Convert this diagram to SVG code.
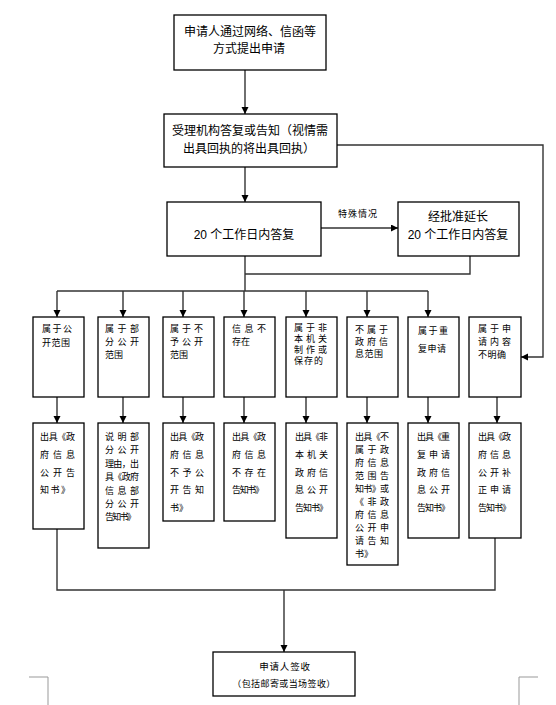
<svg xmlns="http://www.w3.org/2000/svg" width="556" height="705" viewBox="0 0 556 705">
<style>
.box{fill:#fff;stroke:#000;stroke-width:1.3}
.ln{fill:none;stroke:#333;stroke-width:1.4}
.crop{fill:none;stroke:#999;stroke-width:1}
text{font-family:"Liberation Sans","Noto Sans CJK SC",sans-serif;fill:#000}
.m{font-size:12px;text-anchor:middle}
.s{font-size:9px}
.c{font-size:9.5px;text-anchor:middle}
</style>
<defs>
<marker id="ah" markerUnits="userSpaceOnUse" markerWidth="8" markerHeight="8" refX="7" refY="3.5" orient="auto">
<path d="M0,0 L7,3.5 L0,7 z" fill="#000"/>
</marker>
</defs>
<rect width="556" height="705" fill="#fff"/>
<g id="connectors">
<path class="ln" d="M245,70 V114" marker-end="url(#ah)"/>
<path class="ln" d="M245,167 V202" marker-end="url(#ah)"/>
<path class="ln" d="M321,228 H398" marker-end="url(#ah)"/>
<text class="s" x="358" y="217" text-anchor="middle" letter-spacing="1">特殊情况</text>
<path class="ln" d="M470,256 V274 H245"/>
<path class="ln" d="M245,256 V291"/>
<path class="ln" d="M57,291 H428"/>
<path class="ln" d="M57,291 V317" marker-end="url(#ah)"/>
<path class="ln" d="M123,291 V317" marker-end="url(#ah)"/>
<path class="ln" d="M183,291 V317" marker-end="url(#ah)"/>
<path class="ln" d="M244,291 V317" marker-end="url(#ah)"/>
<path class="ln" d="M306,291 V317" marker-end="url(#ah)"/>
<path class="ln" d="M367,291 V317" marker-end="url(#ah)"/>
<path class="ln" d="M428,291 V317" marker-end="url(#ah)"/>
<path class="ln" d="M337,145 H543 V357 H521" marker-end="url(#ah)"/>
<path class="ln" d="M57,397 V423" marker-end="url(#ah)"/>
<path class="ln" d="M123,397 V423" marker-end="url(#ah)"/>
<path class="ln" d="M183,397 V423" marker-end="url(#ah)"/>
<path class="ln" d="M244,397 V423" marker-end="url(#ah)"/>
<path class="ln" d="M306,397 V423" marker-end="url(#ah)"/>
<path class="ln" d="M367,397 V423" marker-end="url(#ah)"/>
<path class="ln" d="M428,397 V423" marker-end="url(#ah)"/>
<path class="ln" d="M497,397 V423" marker-end="url(#ah)"/>
<path class="ln" d="M57,529 V590 H495 V538"/>
<path class="ln" d="M284,590 V652" marker-end="url(#ah)"/>
</g>
<g id="crop-marks">
<path class="crop" d="M29,677 H48 V705"/>
<path class="crop" d="M538,677 H519 V705"/>
</g>
<g id="n-apply">
<rect class="box" x="174" y="15" width="152" height="55"/>
<text class="m" x="250" y="36">申请人通过网络、信函等</text>
<text class="m" x="249" y="53">方式提出申请</text>
</g>
<g id="n-accept">
<rect class="box" x="164" y="114" width="173" height="53"/>
<text class="m" x="250" y="135">受理机构答复或告知（视情需</text>
<text class="m" x="249" y="153">出具回执的将出具回执）</text>
</g>
<g id="n-20days">
<rect class="box" x="167" y="202" width="154" height="54"/>
<text class="m" x="244" y="239">20 个工作日内答复</text>
</g>
<g id="n-extend">
<rect class="box" x="398" y="202" width="121" height="54"/>
<text class="m" x="458" y="221">经批准延长</text>
<text class="m" x="458" y="239">20 个工作日内答复</text>
</g>
<g id="r1-1">
<rect class="box" x="33" y="317" width="51" height="80"/>
<text class="s" x="42" y="332" textLength="30">属于公</text>
<text class="s" x="42" y="346" textLength="28">开范围</text>
</g>
<g id="r1-2">
<rect class="box" x="98" y="317" width="51" height="80"/>
<text class="s" x="105" y="332" textLength="34">属于部</text>
<text class="s" x="105" y="345" textLength="34">分公开</text>
<text class="s" x="105" y="358">范围</text>
</g>
<g id="r1-3">
<rect class="box" x="163" y="317" width="51" height="80"/>
<text class="s" x="170" y="332" textLength="33">属于不</text>
<text class="s" x="170" y="345" textLength="33">予公开</text>
<text class="s" x="170" y="358">范围</text>
</g>
<g id="r1-4">
<rect class="box" x="224" y="317" width="51" height="80"/>
<text class="s" x="232" y="332" textLength="34">信息不</text>
<text class="s" x="232" y="345">存在</text>
</g>
<g id="r1-5">
<rect class="box" x="286" y="317" width="51" height="80"/>
<text class="s" x="294" y="331" textLength="33">属于非</text>
<text class="s" x="294" y="342" textLength="33">本机关</text>
<text class="s" x="294" y="353" textLength="33">制作或</text>
<text class="s" x="294" y="364" textLength="29">保存的</text>
</g>
<g id="r1-6">
<rect class="box" x="347" y="317" width="51" height="80"/>
<text class="s" x="355" y="333" textLength="33">不属于</text>
<text class="s" x="355" y="345" textLength="33">政府信</text>
<text class="s" x="355" y="357" textLength="28">息范围</text>
</g>
<g id="r1-7">
<rect class="box" x="408" y="317" width="51" height="80"/>
<text class="s" x="418" y="334" textLength="30">属于重</text>
<text class="s" x="418" y="352" textLength="28">复申请</text>
</g>
<g id="r1-8">
<rect class="box" x="469" y="317" width="52" height="80"/>
<text class="s" x="478" y="332" textLength="33">属于申</text>
<text class="s" x="478" y="345" textLength="33">请内容</text>
<text class="s" x="478" y="358" textLength="28">不明确</text>
</g>
<g id="r2-1">
<rect class="box" x="33" y="423" width="51" height="106"/>
<text class="s" x="40" y="440" textLength="35">出具《政</text>
<text class="s" x="40" y="458" textLength="35">府信息</text>
<text class="s" x="40" y="476" textLength="35">公开告</text>
<text class="s" x="40" y="493" textLength="30">知书》</text>
</g>
<g id="r2-2">
<rect class="box" x="98" y="423" width="51" height="125"/>
<text class="s" x="105" y="440" textLength="34">说明部</text>
<text class="s" x="105" y="453" textLength="34">分公开</text>
<text class="s" x="105" y="467" textLength="34">理由，出</text>
<text class="s" x="105" y="480" textLength="34">具《政府</text>
<text class="s" x="105" y="494" textLength="34">信息部</text>
<text class="s" x="105" y="507" textLength="34">分公开</text>
<text class="s" x="105" y="520" textLength="31">告知书》</text>
</g>
<g id="r2-3">
<rect class="box" x="163" y="423" width="51" height="98"/>
<text class="s" x="170" y="440" textLength="34">出具《政</text>
<text class="s" x="170" y="458" textLength="34">府信息</text>
<text class="s" x="170" y="476" textLength="34">不予公</text>
<text class="s" x="170" y="493" textLength="34">开告知</text>
<text class="s" x="170" y="511">书》</text>
</g>
<g id="r2-4">
<rect class="box" x="224" y="423" width="51" height="98"/>
<text class="s" x="232" y="440" textLength="34">出具《政</text>
<text class="s" x="232" y="458" textLength="34">府信息</text>
<text class="s" x="232" y="476" textLength="34">不存在</text>
<text class="s" x="232" y="493" textLength="32">告知书》</text>
</g>
<g id="r2-5">
<rect class="box" x="286" y="423" width="51" height="115"/>
<text class="s" x="295" y="440" textLength="33">出具《非</text>
<text class="s" x="295" y="458" textLength="33">本机关</text>
<text class="s" x="295" y="476" textLength="33">政府信</text>
<text class="s" x="295" y="493" textLength="33">息公开</text>
<text class="s" x="295" y="511" textLength="33">告知书》</text>
</g>
<g id="r2-6">
<rect class="box" x="347" y="423" width="51" height="142"/>
<text class="s" x="355" y="440" textLength="34">出具《不</text>
<text class="s" x="355" y="453" textLength="34">属于政</text>
<text class="s" x="355" y="466" textLength="34">府信息</text>
<text class="s" x="355" y="479" textLength="34">范围告</text>
<text class="s" x="355" y="492" textLength="34">知书》或</text>
<text class="s" x="355" y="505" textLength="34">《非政</text>
<text class="s" x="355" y="518" textLength="34">府信息</text>
<text class="s" x="355" y="531" textLength="34">公开申</text>
<text class="s" x="355" y="544" textLength="34">请告知</text>
<text class="s" x="355" y="557">书》</text>
</g>
<g id="r2-7">
<rect class="box" x="408" y="423" width="51" height="115"/>
<text class="s" x="417" y="440" textLength="33">出具《重</text>
<text class="s" x="417" y="458" textLength="33">复申请</text>
<text class="s" x="417" y="476" textLength="33">政府信</text>
<text class="s" x="417" y="493" textLength="33">息公开</text>
<text class="s" x="417" y="511" textLength="33">告知书》</text>
</g>
<g id="r2-8">
<rect class="box" x="469" y="423" width="52" height="115"/>
<text class="s" x="478" y="440" textLength="33">出具《政</text>
<text class="s" x="478" y="458" textLength="33">府信息</text>
<text class="s" x="478" y="476" textLength="33">公开补</text>
<text class="s" x="478" y="493" textLength="33">正申请</text>
<text class="s" x="478" y="511" textLength="33">告知书》</text>
</g>
<g id="n-sign">
<rect class="box" x="213" y="652" width="142" height="44"/>
<text class="c" x="285" y="670" letter-spacing="0.8">申请人签收</text>
<text class="c" x="284" y="687" style="font-size:9px" letter-spacing="0.4">（包括邮寄或当场签收）</text>
</g>
</svg>
